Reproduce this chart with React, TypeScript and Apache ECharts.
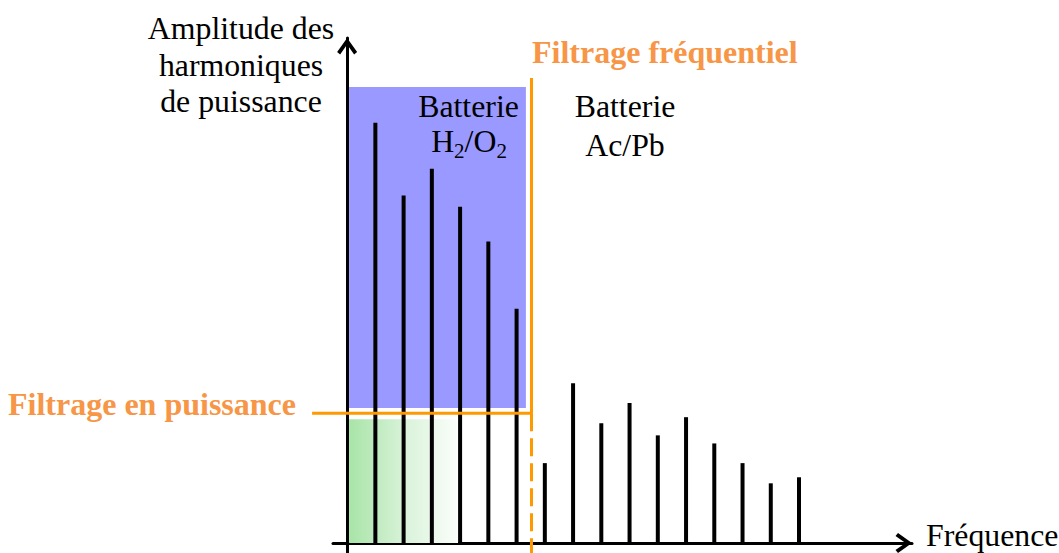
import React, { useEffect, useRef } from "react";
import * as echarts from "echarts";

// Harmonic ranks (x) and amplitudes (y)
const harmonicRanks = [1, 2, 3, 4, 5, 6, 7, 8, 9, 10, 11, 12, 13, 14, 15, 16];
const amplitudes = [83.2, 68.8, 74.1, 66.6, 59.7, 46.4, 15.8, 31.6, 23.7, 27.7, 21.3, 24.9, 19.7, 15.8, 11.8, 13.0];

// Zones (data coordinates)
const blueZoneX = [0.07, 6.33];
const blueZoneY = [26.7, 90.3];
const greenZoneX = [0.07, 3.93];
const greenZoneY = [0, 24.5];
const freqCut = 6.51;
const powerCut = 25.7;
const freqLineTop = 92.1;
const powerLineLeft = -1.24;

const xRange = [-0.5, 20];
const yRange = [-2, 100];

const yAxisTitle = ["Amplitude des", "harmoniques", "de puissance"];
const xAxisTitle = "Fréquence";
const labelFreq = "Filtrage fréquentiel";
const labelPower = "Filtrage en puissance";
const battery = "Batterie";
const batteryAcPb = "Ac/Pb";

const SERIF = "Liberation Serif";
const ORANGE_TEXT = "#f79646";
const ORANGE_LINE = "#ff9900";
const FS = 31.8;
const FS_BOLD = 32;

const arrowPath = "path://M10,0 L20,14 L17,16.5 L10,6.5 L3,16.5 L0,14 Z";

export default function App() {
  const ref = useRef<HTMLDivElement>(null);
  useEffect(() => {
    if (!ref.current) return;
    const chart = echarts.init(ref.current, null, { renderer: "svg" });
    const axisCommon = {
      type: "value" as const,
      axisLine: {
        show: true,
        onZero: true,
        symbol: ["none", arrowPath],
        symbolSize: [20, 16.5],
        symbolOffset: [0, -8.25],
        lineStyle: { color: "#000", width: 3 },
      },
      axisTick: { show: false },
      axisLabel: { show: false },
      splitLine: { show: false },
    };
    const textStyle = (extra: any) => ({
      fontFamily: SERIF,
      fontSize: FS,
      fill: "#000",
      verticalAlign: "middle",
      ...extra,
    });
    chart.setOption({
      animation: false,
      grid: { left: 333, right: 147, top: 38, bottom: 0, containLabel: false },
      xAxis: { ...axisCommon, min: xRange[0], max: xRange[1] },
      yAxis: { ...axisCommon, min: yRange[0], max: yRange[1] },
      series: [
        {
          type: "bar",
          clip: false,
          barWidth: 4,
          itemStyle: { color: "#000" },
          emphasis: { disabled: true },
          data: harmonicRanks.map((r, i) => [r, amplitudes[i]]),
          z: 5,
          markArea: {
            silent: true,
            label: { show: false },
            data: [
              [
                { coord: [blueZoneX[0], blueZoneY[1]], itemStyle: { color: "#9999ff", opacity: 1 } },
                { coord: [blueZoneX[1], blueZoneY[0]] },
              ],
              [
                {
                  coord: [greenZoneX[0], greenZoneY[1]],
                  itemStyle: {
                    opacity: 1,
                    color: new echarts.graphic.LinearGradient(0, 0, 1, 0, [
                      { offset: 0, color: "#a8e4a8" },
                      { offset: 0.5, color: "#d8f2d8" },
                      { offset: 1, color: "#fbfefb" },
                    ]),
                  },
                },
                { coord: [greenZoneX[1], greenZoneY[0]] },
              ],
            ],
          },
          markLine: {
            silent: true,
            symbol: ["none", "none"],
            label: { show: false },
            lineStyle: { color: ORANGE_LINE, width: 3, type: "solid" },
            data: [
              [{ coord: [freqCut, freqLineTop] }, { coord: [freqCut, powerCut] }],
              [
                { coord: [freqCut, powerCut], lineStyle: { type: [18, 7], color: ORANGE_LINE, width: 3 } },
                { coord: [freqCut, yRange[0]] },
              ],
            ],
          },
        },
      ],
    });
    const finder = { xAxisIndex: 0, yAxisIndex: 0 };
    const pL = chart.convertToPixel(finder, [powerLineLeft, powerCut]) as number[];
    const pR = chart.convertToPixel(finder, [freqCut, powerCut]) as number[];
    chart.setOption({
      graphic: [
        {
          type: "line",
          z: 50,
          shape: { x1: pL[0], y1: pL[1], x2: pR[0] + 1.5, y2: pR[1] },
          style: { stroke: ORANGE_LINE, lineWidth: 3 },
        },
        ...yAxisTitle.map((t, i) => ({
          type: "text",
          z: 100,
          x: 241,
          y: 28.7 + i * 36.4,
          style: textStyle({ text: t, align: "center" }),
        })),
        { type: "text", z: 100, x: 926, y: 535.4, style: textStyle({ text: xAxisTitle, align: "left" }) },
        {
          type: "text",
          z: 100,
          x: 532,
          y: 52.4,
          style: textStyle({ text: labelFreq, align: "left", fontWeight: "bold", fontSize: FS_BOLD, fill: ORANGE_TEXT }),
        },
        {
          type: "text",
          z: 100,
          x: 8,
          y: 404.4,
          style: textStyle({ text: labelPower, align: "left", fontWeight: "bold", fontSize: FS_BOLD, fill: ORANGE_TEXT }),
        },
        { type: "text", z: 100, x: 468.5, y: 106.4, style: textStyle({ text: battery, align: "center" }) },
        {
          type: "text",
          z: 100,
          x: 469,
          y: 128,
          style: {
            text: "{n|H}{s|2}{n|/O}{s|2}",
            align: "center",
            verticalAlign: "top",
            rich: {
              n: { fontFamily: SERIF, fontSize: FS, lineHeight: 32, padding: [0, 0, 6, 0], color: "#000" },
              s: { fontFamily: SERIF, fontSize: 21, lineHeight: 21, padding: [15, 0, 2, 0], color: "#000" },
            },
          },
        },
        { type: "text", z: 100, x: 625, y: 106.4, style: textStyle({ text: battery, align: "center" }) },
        { type: "text", z: 100, x: 625, y: 145.4, style: textStyle({ text: batteryAcPb, align: "center" }) },
      ],
    });
    return () => chart.dispose();
  }, []);
  return (
    <div
      ref={ref}
      style={{ position: "absolute", left: 0, top: 0, width: 1059, height: 553, background: "#fff" }}
    />
  );
}
